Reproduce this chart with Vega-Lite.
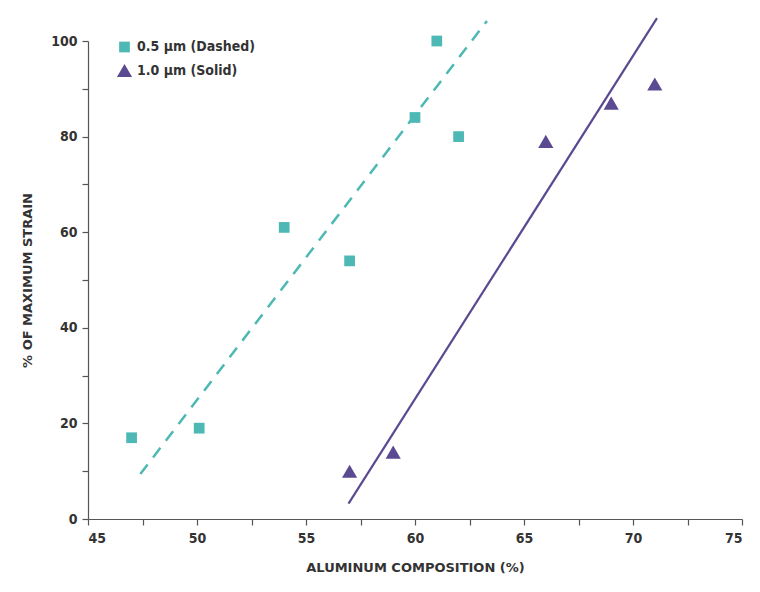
{
  "$schema": "https://vega.github.io/schema/vega-lite/v6.json",
  "width": 654,
  "height": 478,
  "autosize": {"type": "none"},
  "padding": {"left": 88, "top": 41, "right": 18, "bottom": 73},
  "background": "white",
  "config": {
    "view": {"stroke": null},
    "font": "DejaVu Sans Condensed",
    "axis": {
      "domainColor": "#555555",
      "tickColor": "#555555",
      "domainWidth": 1.2,
      "tickWidth": 1.2,
      "tickSize": 6,
      "grid": false,
      "labelFont": "DejaVu Sans Condensed",
      "labelFontWeight": "bold",
      "labelFontSize": 14,
      "labelColor": "#333333",
      "titleFont": "DejaVu Sans",
      "titleFontWeight": "bold",
      "titleFontSize": 13,
      "titleColor": "#333333"
    }
  },
  "datasets": {
    "pts": [
      {"al": 47, "strain": 17, "size": "0.5 µm (Dashed)"},
      {"al": 50.1, "strain": 19, "size": "0.5 µm (Dashed)"},
      {"al": 54, "strain": 61, "size": "0.5 µm (Dashed)"},
      {"al": 57, "strain": 54, "size": "0.5 µm (Dashed)"},
      {"al": 60, "strain": 84, "size": "0.5 µm (Dashed)"},
      {"al": 61, "strain": 100, "size": "0.5 µm (Dashed)"},
      {"al": 62, "strain": 80, "size": "0.5 µm (Dashed)"},
      {"al": 57, "strain": 10, "size": "1.0 µm (Solid)"},
      {"al": 59, "strain": 14, "size": "1.0 µm (Solid)"},
      {"al": 66, "strain": 79, "size": "1.0 µm (Solid)"},
      {"al": 69, "strain": 87, "size": "1.0 µm (Solid)"},
      {"al": 71, "strain": 91, "size": "1.0 µm (Solid)"}
    ],
    "fits": [
      {"al": 47.4, "strain": 9.4, "series": "0.5"},
      {"al": 63.3, "strain": 104.2, "series": "0.5"},
      {"al": 56.95, "strain": 3.2, "series": "1.0"},
      {"al": 71.1, "strain": 104.8, "series": "1.0"}
    ]
  },
  "layer": [
    {
      "data": {"name": "fits"},
      "transform": [{"filter": "datum.series === '0.5'"}],
      "mark": {"type": "line", "color": "#4DB8B4", "strokeWidth": 2.5, "strokeDash": [12, 9], "clip": false},
      "encoding": {
        "x": {"field": "al", "type": "quantitative"},
        "y": {"field": "strain", "type": "quantitative"}
      }
    },
    {
      "data": {"name": "fits"},
      "transform": [{"filter": "datum.series === '1.0'"}],
      "mark": {"type": "line", "color": "#5B4A92", "strokeWidth": 2.2, "clip": false},
      "encoding": {
        "x": {"field": "al", "type": "quantitative"},
        "y": {"field": "strain", "type": "quantitative"}
      }
    },
    {
      "data": {"name": "pts"},
      "mark": {"type": "point", "filled": true, "opacity": 1, "clip": false},
      "encoding": {
        "x": {
          "field": "al",
          "type": "quantitative",
          "scale": {"domain": [45, 75], "nice": false, "zero": false},
          "axis": {
            "title": "ALUMINUM COMPOSITION (%)",
            "values": [45, 47.5, 50, 52.5, 55, 57.5, 60, 62.5, 65, 67.5, 70, 72.5, 75],
            "labelExpr": "datum.value % 5 === 0 ? datum.label : ''",
            "labelPadding": 6,
            "titlePadding": 16
          }
        },
        "y": {
          "field": "strain",
          "type": "quantitative",
          "scale": {"domain": [0, 100], "nice": false},
          "axis": {
            "title": "% OF MAXIMUM STRAIN",
            "values": [0, 10, 20, 30, 40, 50, 60, 70, 80, 90, 100],
            "labelExpr": "datum.value % 20 === 0 ? datum.label : ''",
            "labelPadding": 5,
            "titlePadding": 16
          }
        },
        "color": {
          "field": "size",
          "type": "nominal",
          "scale": {"domain": ["0.5 µm (Dashed)", "1.0 µm (Solid)"], "range": ["#4DB8B4", "#5B4A92"]},
          "legend": {
            "title": null,
            "orient": "none",
            "legendX": 28,
            "legendY": -1,
            "labelFont": "DejaVu Sans Condensed",
            "labelFontWeight": "bold",
            "labelFontSize": 14,
            "labelColor": "#333333",
            "rowPadding": 4,
            "symbolOpacity": 1
          }
        },
        "shape": {
          "field": "size",
          "type": "nominal",
          "scale": {"domain": ["0.5 µm (Dashed)", "1.0 µm (Solid)"], "range": ["square", "triangle-up"]}
        },
        "size": {
          "field": "size",
          "type": "nominal",
          "scale": {"domain": ["0.5 µm (Dashed)", "1.0 µm (Solid)"], "range": [115, 230]}
        }
      }
    }
  ]
}
